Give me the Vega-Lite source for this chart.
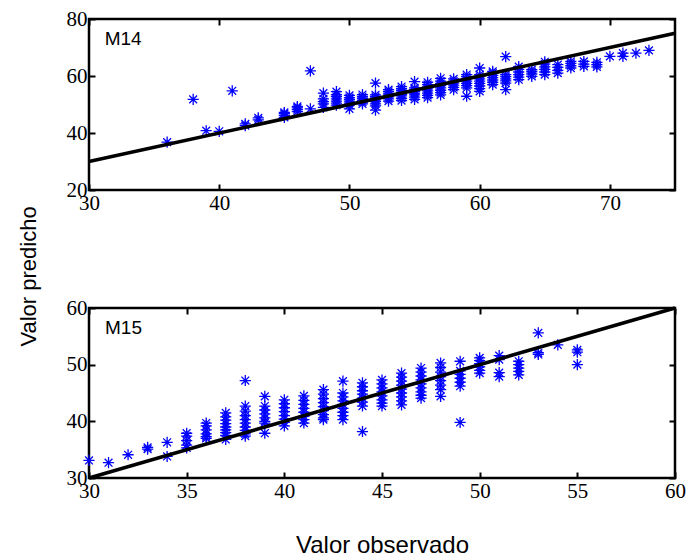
{
  "$schema": "https://vega.github.io/schema/vega-lite/v6.json",
  "background": "white",
  "padding": {"left": 15, "top": 6, "right": 5, "bottom": 2},
  "bounds": "flush",
  "spacing": 118,
  "config": {
    "view": {"stroke": "black", "strokeWidth": 2.5},
    "axis": {
      "grid": false, "domain": false, "tickSize": -6, "tickWidth": 2, "tickColor": "black",
      "labelFont": "Liberation Serif", "labelFontSize": 21, "labelColor": "black",
      "labelFlush": false, "labelOverlap": false, "labelPadding": 8,
      "titleFont": "Liberation Sans", "titleFontWeight": "normal", "titleColor": "black"
    }
  },
  "datasets": {
    "pts": [
      {"p":"M14","x":36,"y":36.8},
      {"p":"M14","x":38,"y":51.8},
      {"p":"M14","x":39,"y":40.8},
      {"p":"M14","x":40,"y":40.6},
      {"p":"M14","x":41,"y":54.8},
      {"p":"M14","x":42,"y":42.6},{"p":"M14","x":42,"y":43.2},
      {"p":"M14","x":43,"y":44.6},{"p":"M14","x":43,"y":45.3},
      {"p":"M14","x":45,"y":45.5},{"p":"M14","x":45,"y":46.2},{"p":"M14","x":45,"y":46.8},{"p":"M14","x":45,"y":47.2},
      {"p":"M14","x":46,"y":47.5},{"p":"M14","x":46,"y":48.2},{"p":"M14","x":46,"y":48.8},{"p":"M14","x":46,"y":49.3},
      {"p":"M14","x":47,"y":61.8},{"p":"M14","x":47,"y":48.5},
      {"p":"M14","x":48,"y":49.0},{"p":"M14","x":48,"y":50.2},{"p":"M14","x":48,"y":51.0},{"p":"M14","x":48,"y":52.0},{"p":"M14","x":48,"y":54.0},
      {"p":"M14","x":49,"y":49.8},{"p":"M14","x":49,"y":50.5},{"p":"M14","x":49,"y":51.2},{"p":"M14","x":49,"y":52.0},{"p":"M14","x":49,"y":52.8},{"p":"M14","x":49,"y":53.5},{"p":"M14","x":49,"y":54.5},
      {"p":"M14","x":50,"y":48.5},{"p":"M14","x":50,"y":49.8},{"p":"M14","x":50,"y":50.5},{"p":"M14","x":50,"y":51.2},{"p":"M14","x":50,"y":51.8},{"p":"M14","x":50,"y":52.4},{"p":"M14","x":50,"y":53.2},
      {"p":"M14","x":51,"y":50.2},{"p":"M14","x":51,"y":50.8},{"p":"M14","x":51,"y":51.5},{"p":"M14","x":51,"y":52.2},{"p":"M14","x":51,"y":52.8},{"p":"M14","x":51,"y":53.5},
      {"p":"M14","x":52,"y":57.5},{"p":"M14","x":52,"y":48.0},{"p":"M14","x":52,"y":49.5},{"p":"M14","x":52,"y":50.2},{"p":"M14","x":52,"y":51.0},{"p":"M14","x":52,"y":51.6},{"p":"M14","x":52,"y":52.2},{"p":"M14","x":52,"y":52.8},{"p":"M14","x":52,"y":53.4},
      {"p":"M14","x":53,"y":51.2},{"p":"M14","x":53,"y":52.0},{"p":"M14","x":53,"y":52.7},{"p":"M14","x":53,"y":53.4},{"p":"M14","x":53,"y":54.0},{"p":"M14","x":53,"y":54.6},{"p":"M14","x":53,"y":55.2},
      {"p":"M14","x":54,"y":51.4},{"p":"M14","x":54,"y":52.2},{"p":"M14","x":54,"y":53.0},{"p":"M14","x":54,"y":53.6},{"p":"M14","x":54,"y":54.3},{"p":"M14","x":54,"y":55.0},{"p":"M14","x":54,"y":55.6},{"p":"M14","x":54,"y":56.3},
      {"p":"M14","x":55,"y":58.0},{"p":"M14","x":55,"y":51.8},{"p":"M14","x":55,"y":52.6},{"p":"M14","x":55,"y":53.4},{"p":"M14","x":55,"y":54.0},{"p":"M14","x":55,"y":54.6},{"p":"M14","x":55,"y":55.2},{"p":"M14","x":55,"y":55.8},
      {"p":"M14","x":56,"y":52.4},{"p":"M14","x":56,"y":53.2},{"p":"M14","x":56,"y":54.0},{"p":"M14","x":56,"y":54.8},{"p":"M14","x":56,"y":55.5},{"p":"M14","x":56,"y":56.2},{"p":"M14","x":56,"y":57.0},{"p":"M14","x":56,"y":57.8},
      {"p":"M14","x":57,"y":53.4},{"p":"M14","x":57,"y":54.2},{"p":"M14","x":57,"y":55.0},{"p":"M14","x":57,"y":55.8},{"p":"M14","x":57,"y":56.6},{"p":"M14","x":57,"y":57.4},{"p":"M14","x":57,"y":58.2},{"p":"M14","x":57,"y":59.2},
      {"p":"M14","x":58,"y":55.2},{"p":"M14","x":58,"y":56.0},{"p":"M14","x":58,"y":56.8},{"p":"M14","x":58,"y":57.5},{"p":"M14","x":58,"y":58.2},{"p":"M14","x":58,"y":59.0},
      {"p":"M14","x":59,"y":52.9},{"p":"M14","x":59,"y":55.8},{"p":"M14","x":59,"y":56.6},{"p":"M14","x":59,"y":57.4},{"p":"M14","x":59,"y":58.2},{"p":"M14","x":59,"y":59.0},{"p":"M14","x":59,"y":59.8},{"p":"M14","x":59,"y":60.5},
      {"p":"M14","x":60,"y":62.8},{"p":"M14","x":60,"y":54.6},{"p":"M14","x":60,"y":55.6},{"p":"M14","x":60,"y":56.5},{"p":"M14","x":60,"y":57.4},{"p":"M14","x":60,"y":58.2},{"p":"M14","x":60,"y":59.0},{"p":"M14","x":60,"y":59.8},{"p":"M14","x":60,"y":60.5},
      {"p":"M14","x":61,"y":57.0},{"p":"M14","x":61,"y":57.8},{"p":"M14","x":61,"y":58.6},{"p":"M14","x":61,"y":59.4},{"p":"M14","x":61,"y":60.2},{"p":"M14","x":61,"y":61.0},{"p":"M14","x":61,"y":61.6},
      {"p":"M14","x":62,"y":66.8},{"p":"M14","x":62,"y":55.2},{"p":"M14","x":62,"y":57.5},{"p":"M14","x":62,"y":58.3},{"p":"M14","x":62,"y":59.0},{"p":"M14","x":62,"y":59.8},{"p":"M14","x":62,"y":60.5},
      {"p":"M14","x":63,"y":58.7},{"p":"M14","x":63,"y":59.6},{"p":"M14","x":63,"y":60.5},{"p":"M14","x":63,"y":61.4},{"p":"M14","x":63,"y":62.3},{"p":"M14","x":63,"y":63.3},
      {"p":"M14","x":64,"y":59.9},{"p":"M14","x":64,"y":60.7},{"p":"M14","x":64,"y":61.5},{"p":"M14","x":64,"y":62.2},
      {"p":"M14","x":65,"y":60.5},{"p":"M14","x":65,"y":61.4},{"p":"M14","x":65,"y":62.3},{"p":"M14","x":65,"y":63.2},{"p":"M14","x":65,"y":64.2},{"p":"M14","x":65,"y":65.0},
      {"p":"M14","x":66,"y":61.0},{"p":"M14","x":66,"y":62.0},{"p":"M14","x":66,"y":63.0},{"p":"M14","x":66,"y":64.0},
      {"p":"M14","x":67,"y":62.8},{"p":"M14","x":67,"y":63.6},{"p":"M14","x":67,"y":64.4},{"p":"M14","x":67,"y":65.1},
      {"p":"M14","x":68,"y":63.4},{"p":"M14","x":68,"y":64.2},{"p":"M14","x":68,"y":65.1},
      {"p":"M14","x":69,"y":63.2},{"p":"M14","x":69,"y":64.0},{"p":"M14","x":69,"y":64.8},
      {"p":"M14","x":70,"y":66.9},
      {"p":"M14","x":71,"y":66.9},{"p":"M14","x":71,"y":68.0},
      {"p":"M14","x":72,"y":68.0},
      {"p":"M14","x":73,"y":69.0},

      {"p":"M15","x":30,"y":33.1},
      {"p":"M15","x":31,"y":32.7},
      {"p":"M15","x":32,"y":34.1},
      {"p":"M15","x":33,"y":35.1},{"p":"M15","x":33,"y":35.4},
      {"p":"M15","x":34,"y":36.3},{"p":"M15","x":34,"y":33.8},
      {"p":"M15","x":35,"y":37.9},{"p":"M15","x":35,"y":37.4},{"p":"M15","x":35,"y":36.6},{"p":"M15","x":35,"y":35.8},{"p":"M15","x":35,"y":35.3},
      {"p":"M15","x":36,"y":39.7},{"p":"M15","x":36,"y":39.2},{"p":"M15","x":36,"y":38.5},{"p":"M15","x":36,"y":37.8},{"p":"M15","x":36,"y":37.3},{"p":"M15","x":36,"y":37.0},
      {"p":"M15","x":37,"y":41.5},{"p":"M15","x":37,"y":40.8},{"p":"M15","x":37,"y":40.2},{"p":"M15","x":37,"y":39.6},{"p":"M15","x":37,"y":39.0},{"p":"M15","x":37,"y":38.5},{"p":"M15","x":37,"y":38.0},{"p":"M15","x":37,"y":37.5},{"p":"M15","x":37,"y":36.8},
      {"p":"M15","x":38,"y":47.2},{"p":"M15","x":38,"y":42.7},{"p":"M15","x":38,"y":41.8},{"p":"M15","x":38,"y":41.0},{"p":"M15","x":38,"y":40.3},{"p":"M15","x":38,"y":39.7},{"p":"M15","x":38,"y":39.0},{"p":"M15","x":38,"y":38.4},{"p":"M15","x":38,"y":37.8},{"p":"M15","x":38,"y":37.4},
      {"p":"M15","x":39,"y":44.4},{"p":"M15","x":39,"y":42.7},{"p":"M15","x":39,"y":42.0},{"p":"M15","x":39,"y":41.3},{"p":"M15","x":39,"y":40.6},{"p":"M15","x":39,"y":40.0},{"p":"M15","x":39,"y":39.7},{"p":"M15","x":39,"y":37.9},
      {"p":"M15","x":40,"y":43.8},{"p":"M15","x":40,"y":43.1},{"p":"M15","x":40,"y":42.4},{"p":"M15","x":40,"y":41.7},{"p":"M15","x":40,"y":41.0},{"p":"M15","x":40,"y":40.4},{"p":"M15","x":40,"y":39.8},{"p":"M15","x":40,"y":39.2},
      {"p":"M15","x":41,"y":44.5},{"p":"M15","x":41,"y":43.7},{"p":"M15","x":41,"y":43.0},{"p":"M15","x":41,"y":42.3},{"p":"M15","x":41,"y":41.6},{"p":"M15","x":41,"y":40.9},{"p":"M15","x":41,"y":40.3},{"p":"M15","x":41,"y":39.7},
      {"p":"M15","x":42,"y":45.6},{"p":"M15","x":42,"y":44.8},{"p":"M15","x":42,"y":44.0},{"p":"M15","x":42,"y":43.3},{"p":"M15","x":42,"y":42.6},{"p":"M15","x":42,"y":41.9},{"p":"M15","x":42,"y":41.2},{"p":"M15","x":42,"y":40.6},{"p":"M15","x":42,"y":40.3},
      {"p":"M15","x":43,"y":47.1},{"p":"M15","x":43,"y":45.0},{"p":"M15","x":43,"y":44.3},{"p":"M15","x":43,"y":43.6},{"p":"M15","x":43,"y":43.0},{"p":"M15","x":43,"y":42.3},{"p":"M15","x":43,"y":41.6},{"p":"M15","x":43,"y":41.0},{"p":"M15","x":43,"y":40.3},
      {"p":"M15","x":44,"y":46.8},{"p":"M15","x":44,"y":46.1},{"p":"M15","x":44,"y":45.4},{"p":"M15","x":44,"y":44.8},{"p":"M15","x":44,"y":44.1},{"p":"M15","x":44,"y":43.4},{"p":"M15","x":44,"y":42.7},{"p":"M15","x":44,"y":38.2},
      {"p":"M15","x":45,"y":47.3},{"p":"M15","x":45,"y":46.6},{"p":"M15","x":45,"y":45.9},{"p":"M15","x":45,"y":45.2},{"p":"M15","x":45,"y":44.5},{"p":"M15","x":45,"y":43.8},{"p":"M15","x":45,"y":43.2},{"p":"M15","x":45,"y":42.7},
      {"p":"M15","x":46,"y":48.5},{"p":"M15","x":46,"y":47.8},{"p":"M15","x":46,"y":47.1},{"p":"M15","x":46,"y":46.4},{"p":"M15","x":46,"y":45.7},{"p":"M15","x":46,"y":45.0},{"p":"M15","x":46,"y":44.3},{"p":"M15","x":46,"y":43.6},{"p":"M15","x":46,"y":42.9},
      {"p":"M15","x":47,"y":49.4},{"p":"M15","x":47,"y":48.7},{"p":"M15","x":47,"y":48.0},{"p":"M15","x":47,"y":47.3},{"p":"M15","x":47,"y":46.6},{"p":"M15","x":47,"y":45.9},{"p":"M15","x":47,"y":45.2},{"p":"M15","x":47,"y":44.6},{"p":"M15","x":47,"y":44.1},
      {"p":"M15","x":48,"y":50.3},{"p":"M15","x":48,"y":49.5},{"p":"M15","x":48,"y":48.7},{"p":"M15","x":48,"y":47.9},{"p":"M15","x":48,"y":47.2},{"p":"M15","x":48,"y":46.4},{"p":"M15","x":48,"y":45.6},{"p":"M15","x":48,"y":44.4},
      {"p":"M15","x":49,"y":50.6},{"p":"M15","x":49,"y":48.9},{"p":"M15","x":49,"y":48.3},{"p":"M15","x":49,"y":47.6},{"p":"M15","x":49,"y":46.9},{"p":"M15","x":49,"y":46.2},{"p":"M15","x":49,"y":39.8},
      {"p":"M15","x":50,"y":51.2},{"p":"M15","x":50,"y":50.7},{"p":"M15","x":50,"y":50.2},{"p":"M15","x":50,"y":49.6},{"p":"M15","x":50,"y":49.0},{"p":"M15","x":50,"y":48.5},
      {"p":"M15","x":51,"y":51.6},{"p":"M15","x":51,"y":50.9},{"p":"M15","x":51,"y":48.6},{"p":"M15","x":51,"y":47.9},
      {"p":"M15","x":52,"y":50.6},{"p":"M15","x":52,"y":50.0},{"p":"M15","x":52,"y":49.4},{"p":"M15","x":52,"y":48.8},{"p":"M15","x":52,"y":48.2},
      {"p":"M15","x":53,"y":55.6},{"p":"M15","x":53,"y":52.1},{"p":"M15","x":53,"y":51.8},
      {"p":"M15","x":54,"y":53.5},
      {"p":"M15","x":55,"y":52.6},{"p":"M15","x":55,"y":52.2},{"p":"M15","x":55,"y":50.0}
    ]
  },
  "vconcat": [
    {
      "width": 586, "height": 171,
      "resolve": {"axis": {"x": "independent", "y": "independent"}},
      "layer": [
        {
          "data": {"name": "pts"},
          "transform": [{"filter": "datum.p == 'M14'"}],
          "mark": {"type": "point", "shape": "M0,-1V1M-1,0H1M-0.7,-0.7L0.7,0.7M-0.7,0.7L0.7,-0.7", "filled": false, "stroke": "#0000ff", "strokeWidth": 1.3, "size": 125, "opacity": 1},
          "encoding": {
            "x": {"field": "x", "type": "quantitative", "scale": {"domain": [30, 75], "nice": false, "zero": false},
                  "axis": {"orient": "bottom", "values": [30, 40, 50, 60, 70], "title": null}},
            "y": {"field": "y", "type": "quantitative", "scale": {"domain": [20, 80], "nice": false, "zero": false},
                  "axis": {"orient": "left", "values": [20, 40, 60, 80], "title": "Valor predicho", "titleFontSize": 22, "titleX": -49, "titleY": 257, "titleAngle": -90, "titleAlign": "center", "titleBaseline": "bottom"}}
          }
        },
        {
          "data": {"values": [{"x": 30, "y": 30}, {"x": 75, "y": 75}]},
          "mark": {"type": "line", "color": "black", "strokeWidth": 3.5},
          "encoding": {
            "x": {"field": "x", "type": "quantitative", "axis": {"orient": "top", "values": [30, 40, 50, 60, 70], "labels": false, "title": null}},
            "y": {"field": "y", "type": "quantitative", "axis": {"orient": "right", "values": [20, 40, 60, 80], "labels": false, "title": null}}
          }
        },
        {
          "data": {"values": [{"t": "M14", "x": 31.2, "y": 73}]},
          "mark": {"type": "text", "align": "left", "baseline": "middle", "font": "Liberation Sans", "fontSize": 19, "color": "black"},
          "encoding": {
            "x": {"field": "x", "type": "quantitative", "axis": null},
            "y": {"field": "y", "type": "quantitative", "axis": null},
            "text": {"field": "t"}
          }
        }
      ]
    },
    {
      "width": 586, "height": 170,
      "resolve": {"axis": {"x": "independent", "y": "independent"}},
      "layer": [
        {
          "data": {"name": "pts"},
          "transform": [{"filter": "datum.p == 'M15'"}],
          "mark": {"type": "point", "shape": "M0,-1V1M-1,0H1M-0.7,-0.7L0.7,0.7M-0.7,0.7L0.7,-0.7", "filled": false, "stroke": "#0000ff", "strokeWidth": 1.3, "size": 125, "opacity": 1},
          "encoding": {
            "x": {"field": "x", "type": "quantitative", "scale": {"domain": [30, 60], "nice": false, "zero": false},
                  "axis": {"orient": "bottom", "values": [30, 35, 40, 45, 50, 55, 60], "title": "Valor observado", "titleFontSize": 24, "titleY": 74, "titleBaseline": "alphabetic"}},
            "y": {"field": "y", "type": "quantitative", "scale": {"domain": [30, 60], "nice": false, "zero": false},
                  "axis": {"orient": "left", "values": [30, 40, 50, 60], "title": null}}
          }
        },
        {
          "data": {"values": [{"x": 30, "y": 30}, {"x": 60, "y": 60}]},
          "mark": {"type": "line", "color": "black", "strokeWidth": 3.5},
          "encoding": {
            "x": {"field": "x", "type": "quantitative", "axis": {"orient": "top", "values": [30, 35, 40, 45, 50, 55, 60], "labels": false, "title": null}},
            "y": {"field": "y", "type": "quantitative", "axis": {"orient": "right", "values": [30, 40, 50, 60], "labels": false, "title": null}}
          }
        },
        {
          "data": {"values": [{"t": "M15", "x": 30.82, "y": 56.5}]},
          "mark": {"type": "text", "align": "left", "baseline": "middle", "font": "Liberation Sans", "fontSize": 19, "color": "black"},
          "encoding": {
            "x": {"field": "x", "type": "quantitative", "axis": null},
            "y": {"field": "y", "type": "quantitative", "axis": null},
            "text": {"field": "t"}
          }
        }
      ]
    }
  ]
}
